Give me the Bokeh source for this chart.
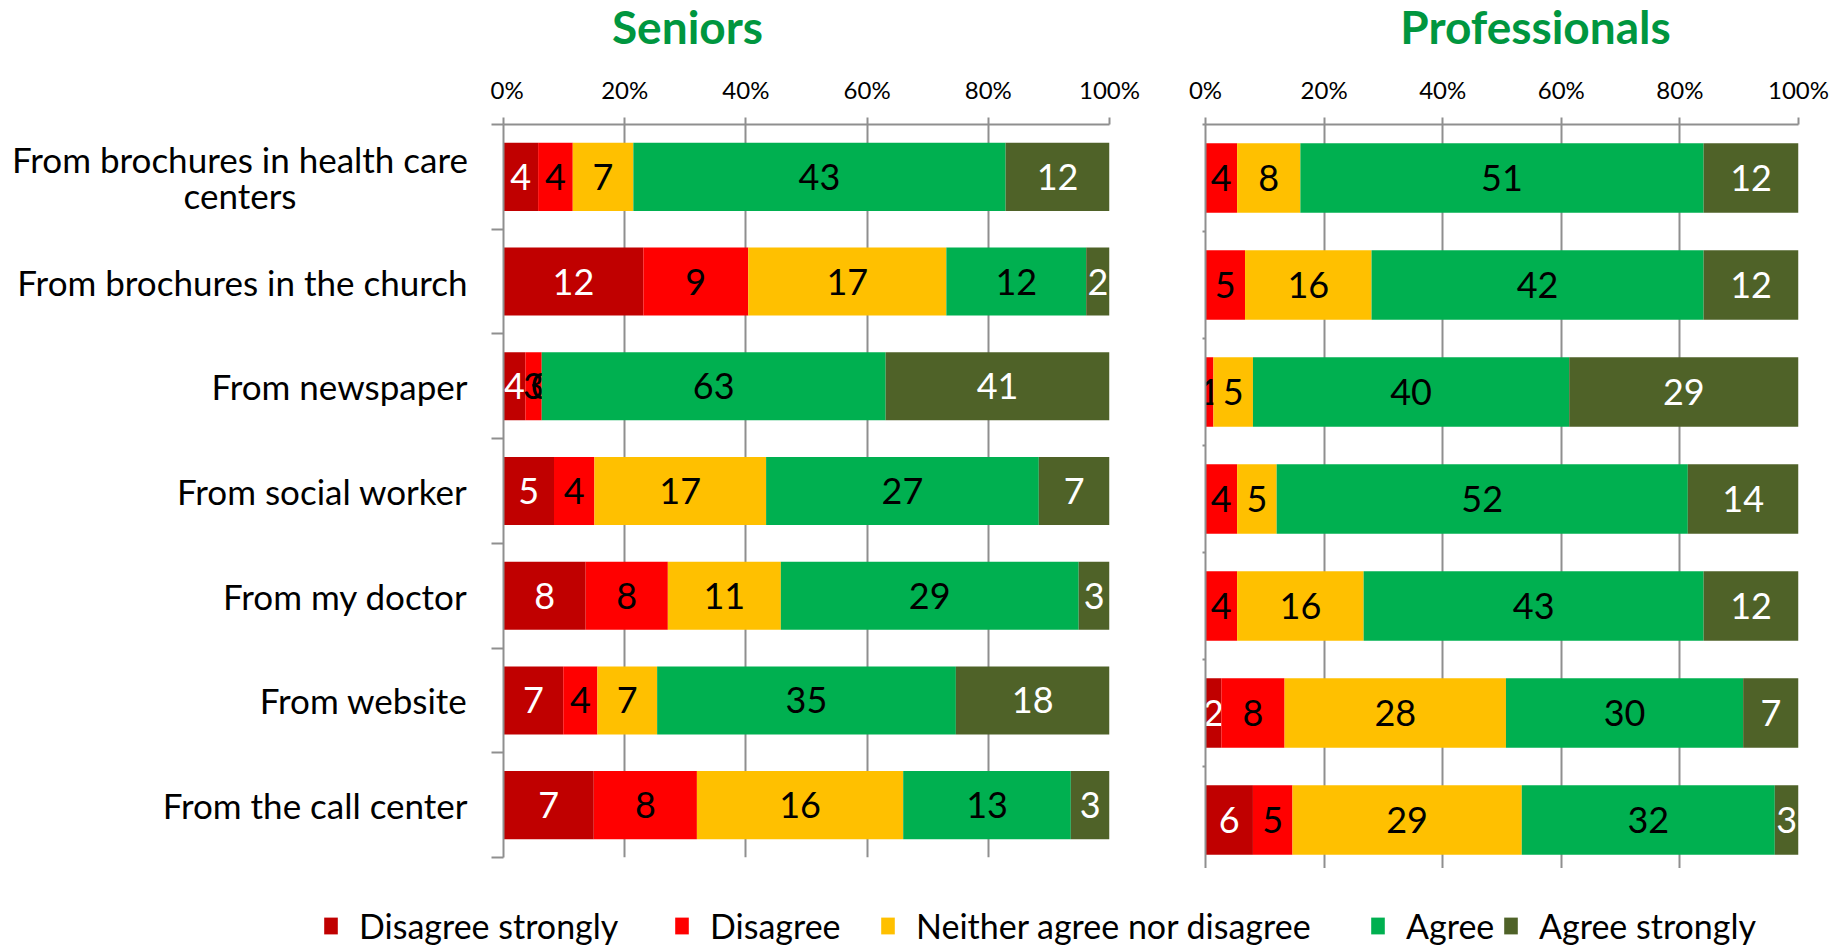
import numpy as np
from bokeh.plotting import figure
from bokeh.models import (ColumnDataSource, Range1d, FixedTicker, NumeralTickFormatter,
                          Legend, LegendItem)
from bokeh.layouts import row, column
from bokeh.core.properties import value
from bokeh.embed import file_html
from bokeh.resources import INLINE

# ---------------- data ----------------
categories = [
    "From brochures in health care\ncenters",
    "From brochures in the church",
    "From newspaper",
    "From social worker",
    "From my doctor",
    "From website",
    "From the call center",
]
panel_titles = ["Seniors", "Professionals"]
series_names = ["Disagree strongly", "Disagree", "Neither agree nor disagree", "Agree", "Agree strongly"]
series_colors = ["#C00000", "#FF0000", "#FFC000", "#00B050", "#4F6228"]
label_colors = ["white", "black", "black", "black", "white"]
x_ticks = [0, 0.2, 0.4, 0.6, 0.8, 1.0]

seniors_disagree_strongly = [4, 12, 4, 5, 8, 7, 7]
seniors_disagree = [4, 9, 3, 4, 8, 4, 8]
seniors_neither = [7, 17, 0, 17, 11, 7, 16]
seniors_agree = [43, 12, 63, 27, 29, 35, 13]
seniors_agree_strongly = [12, 2, 41, 7, 3, 18, 3]

prof_disagree_strongly = [0, 0, 0, 0, 0, 2, 6]
prof_disagree = [4, 5, 1, 4, 4, 8, 5]
prof_neither = [8, 16, 5, 5, 16, 28, 29]
prof_agree = [51, 42, 40, 52, 43, 30, 32]
prof_agree_strongly = [12, 12, 29, 14, 12, 7, 3]

FONT = "Lato"
GRID = "#8f8f8f"
TITLE_GREEN = "#00963F"
N = len(categories)
YS = np.arange(N) + 0.5

# layout constants (pixels)
PAGE_W = 1842
STRIP_H = 60
TITLE_CENTERS_PX = [687, 1535]
TITLE_MIDDLE_PX = 26
LABEL_W = 490
LABEL_RIGHT_PX = 467
WRAPPED_LABEL_W = 455


def make_panel(series, frame_w, frame_h, b_left, b_top, b_bottom, b_right, minor_out, y_range):
    counts = np.array(series, dtype=float)
    totals = counts.sum(axis=0)
    shares = counts / totals
    rights = np.cumsum(shares, axis=0)
    lefts = rights - shares

    p = figure(frame_width=frame_w, frame_height=frame_h,
               x_range=Range1d(0, 1), y_range=y_range,
               x_axis_location="above", output_backend="svg", toolbar_location=None,
               min_border_left=b_left, min_border_top=b_top,
               min_border_bottom=b_bottom, min_border_right=b_right,
               outline_line_color=None, background_fill_color="white")

    for k in range(len(series)):
        src = ColumnDataSource(dict(
            y=YS, left=lefts[k], right=rights[k],
            mid=(lefts[k] + rights[k]) / 2,
            lab=[str(int(v)) for v in counts[k]],
        ))
        p.hbar(y="y", left="left", right="right", height=0.65, source=src,
               fill_color=series_colors[k], line_color=None)
        p.text(x="mid", y="y", text="lab", source=src, text_align="center",
               text_baseline="middle", text_color=label_colors[k],
               text_font=value(FONT), text_font_size="36px")

    # x axis (top)
    xa = p.xaxis[0]
    xa.ticker = FixedTicker(ticks=x_ticks, minor_ticks=[])
    xa.formatter = NumeralTickFormatter(format="0%")
    xa.axis_line_color = GRID
    xa.axis_line_width = 2
    xa.major_tick_line_color = GRID
    xa.major_tick_line_width = 2
    xa.major_tick_out = 7
    xa.major_tick_in = 0
    xa.major_label_text_font = FONT
    xa.major_label_text_font_size = "24px"
    xa.major_label_text_color = "black"
    xa.major_label_standoff = 14

    # y axis (left): only boundary ticks, labels drawn in the label column
    ya = p.yaxis[0]
    ya.ticker = FixedTicker(ticks=[], minor_ticks=list(range(N + 1)))
    ya.axis_line_color = GRID
    ya.axis_line_width = 2
    ya.major_tick_out = 0
    ya.major_tick_in = 0
    ya.minor_tick_out = minor_out
    ya.minor_tick_in = 0
    ya.minor_tick_line_color = GRID
    ya.minor_tick_line_width = 2

    p.xgrid.ticker = FixedTicker(ticks=x_ticks)
    p.xgrid.grid_line_color = GRID
    p.xgrid.grid_line_width = 2
    p.ygrid.grid_line_color = None
    return p


seniors = [seniors_disagree_strongly, seniors_disagree, seniors_neither,
           seniors_agree, seniors_agree_strongly]
profs = [prof_disagree_strongly, prof_disagree, prof_neither,
         prof_agree, prof_agree_strongly]

shared_y = Range1d(N, 0)
p1 = make_panel(seniors, 606, 733, 13, 124 - STRIP_H, 11, 41, 12, shared_y)
p2 = make_panel(profs, 593, 749, 55, 119 - STRIP_H, 0, 44, 3, Range1d(N, 0))

# category label column (left of the Seniors panel, shares its y range)
p0 = figure(frame_width=LABEL_W, frame_height=733, x_range=Range1d(0, LABEL_W),
            y_range=shared_y, x_axis_location=None, y_axis_location=None,
            output_backend="svg", toolbar_location=None,
            min_border_left=0, min_border_right=0, min_border_top=124 - STRIP_H,
            min_border_bottom=11, outline_line_color=None)
p0.grid.visible = False
single = [i for i, c in enumerate(categories) if "\n" not in c]
wrapped = [i for i, c in enumerate(categories) if "\n" in c]
src_single = ColumnDataSource(dict(x=[LABEL_RIGHT_PX] * len(single), y=YS[single],
                                   t=[categories[i] for i in single]))
src_wrapped = ColumnDataSource(dict(x=[LABEL_RIGHT_PX - WRAPPED_LABEL_W / 2] * len(wrapped),
                                    y=YS[wrapped], t=[categories[i] for i in wrapped]))
p0.text(x="x", y="y", text="t", source=src_single, text_align="right",
        text_baseline="middle", text_font=value(FONT), text_font_size="35px",
        text_color="black")
p0.text(x="x", y="y", text="t", source=src_wrapped, text_align="center",
        text_baseline="middle", text_font=value(FONT), text_font_size="35px",
        text_color="black", text_line_height=0.86)

# title strip
ts = figure(width=PAGE_W, height=STRIP_H, x_range=Range1d(0, PAGE_W),
            y_range=Range1d(STRIP_H, 0), x_axis_location=None, y_axis_location=None,
            output_backend="svg", toolbar_location=None, min_border=0,
            outline_line_color=None)
ts.grid.visible = False
ts.text(x=TITLE_CENTERS_PX, y=[TITLE_MIDDLE_PX] * 2, text=panel_titles,
        text_align="center", text_baseline="middle", text_font=value(FONT),
        text_font_size="46px", text_font_style="bold", text_color=TITLE_GREEN)

# legend strip: one single-item legend per series, placed like the reference
legend_x = [322, 673, 879, 1369, 1502]
lf = figure(width=PAGE_W, height=80, x_range=Range1d(0, 1), y_range=Range1d(0, 1),
            x_axis_location=None, y_axis_location=None, output_backend="svg",
            toolbar_location=None, min_border=0, outline_line_color=None)
lf.grid.visible = False
for name, c, lx in zip(series_names, series_colors, legend_x):
    r = lf.hbar(y=[-1], left=[0], right=[0], height=0.1, fill_color=c, line_color=None)
    lg = Legend(items=[LegendItem(label=name, renderers=[r])], orientation="horizontal",
                location=(lx, 2), border_line_color=None, background_fill_alpha=0,
                padding=0, margin=0, spacing=0, label_standoff=20,
                glyph_width=17, glyph_height=21,
                label_text_font=FONT, label_text_font_size="34px", label_text_color="black")
    lf.add_layout(lg)

layout = column(ts, row(p0, p1, p2, spacing=0), lf, spacing=0)
open("out.html", "w").write(file_html(layout, INLINE))
